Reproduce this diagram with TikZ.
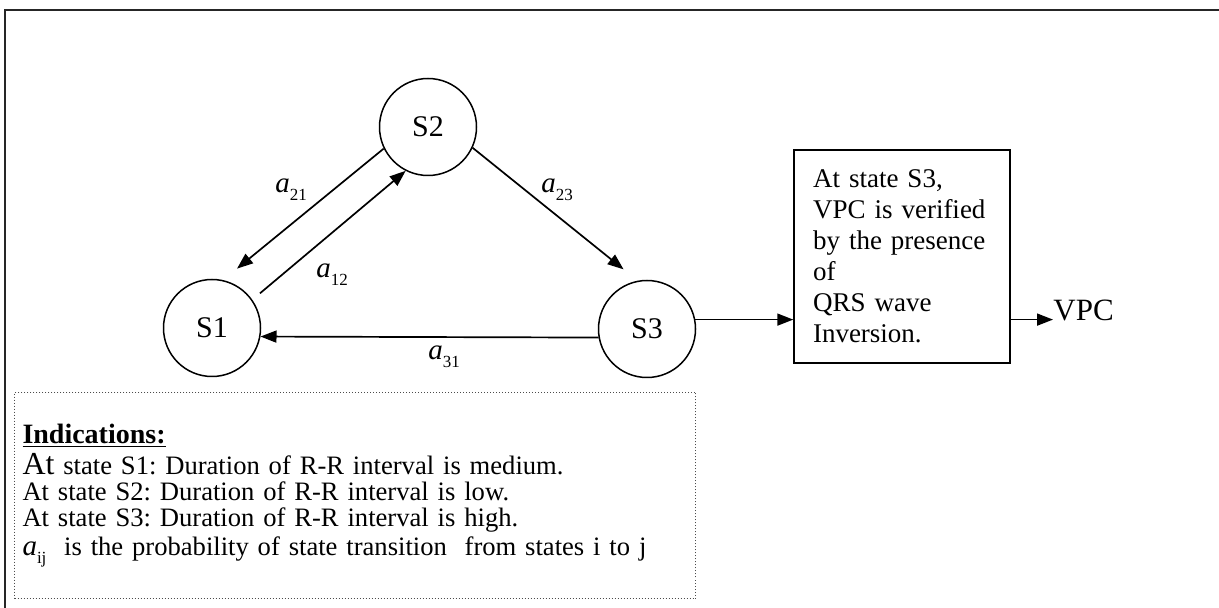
\documentclass[tikz,border=0pt]{standalone}
\usepackage{fontspec}
\setmainfont{Liberation Serif}
\usepackage{tikz}
\usetikzlibrary{arrows.meta, calc}
\frenchspacing

% transition probability a_{xy}
\newcommand{\trans}[1]{{\fontsize{14.5}{14.5}\selectfont\itshape a}\raisebox{-4pt}{\fontsize{8.5}{9}\selectfont #1}}

\begin{document}
\begin{tikzpicture}[x=0.5pt, y=-0.5pt, every node/.style={align=center}]
\tikzset{
  state/.style={
    circle, draw=black, line width=0.75pt, minimum size=48.5pt, inner sep=0pt,
    font=\fontsize{15}{17}\selectfont
  },
  panel/.style={
    rectangle, draw=black, line width=0.75pt, align=left,
    text width=89pt, inner xsep=9.5pt, minimum height=106.5pt,
    font=\fontsize{13.5}{15.5}\selectfont
  },
  notes/.style={
    rectangle, draw=black!70, line width=0.5pt, dash pattern=on 0.5pt off 1pt,
    align=left, text width=332.5pt, inner xsep=4pt, minimum height=103pt,
    font=\fontsize{13.3}{13.1}\selectfont
  },
  prob/.style={inner sep=0pt},
  arrow/.style={line width=0.85pt, -{Triangle[length=8pt, width=6pt]}},
  frame/.style={line width=0.8pt, draw=black!85}
}
\useasboundingbox (0,0) rectangle (1219,608);

% page frame
\draw[frame] (1219,10) -- (5,10) -- (5,608);

% states of the chain
\node (s2) [state] at (428,127) {S2};
\node (s1) [state] at (212,328) {S1};
\node (s3) [state] at (647,329) {S3};

% decision box and output
\node (box) [panel] at (902,256.5) {At state S3,\\ VPC is verified\\ by the presence\\ of\\ QRS wave\\ Inversion.};
\node (vpc) [anchor=base west, inner sep=0pt, font=\fontsize{15.5}{17}\selectfont] at (1053,321) {VPC};

% legend
\node (legend) [notes, anchor=north west] at (14,392) {\underline{\textbf{\fontsize{14}{13}\selectfont Indications:}}\\[2.5pt]
{\fontsize{16}{13}\selectfont At} state S1: Duration of R-R interval is medium.\\
At state S2: Duration of R-R interval is low.\\
At state S3: Duration of R-R interval is high.\\[1.5pt]
\trans{ij}\ \ is the probability of state transition\ \ from states i to j\\[4pt]};

% transitions
\draw [arrow, shorten >=9pt] (s2.206) -- (s1.77);
\draw [arrow, shorten <=5pt] (s1.35) -- (s2.243);
\draw [arrow, shorten >=9pt] (s2.335) -- (s3.101);
\draw [arrow] (s3.190) -- (s1.350);
\draw [arrow] (s3.11) -- (s3.11 -| box.west);
\draw [arrow] (s3.11 -| box.east) -- (s3.11 -| vpc.west);

\node (l21) [prob] at (291,190) {\trans{21}};
\node (l12) [prob] at (332,275) {\trans{12}};
\node (l23) [prob] at (557,190) {\trans{23}};
\node (l31) [prob] at (444,357) {\trans{31}};
\end{tikzpicture}
\end{document}
